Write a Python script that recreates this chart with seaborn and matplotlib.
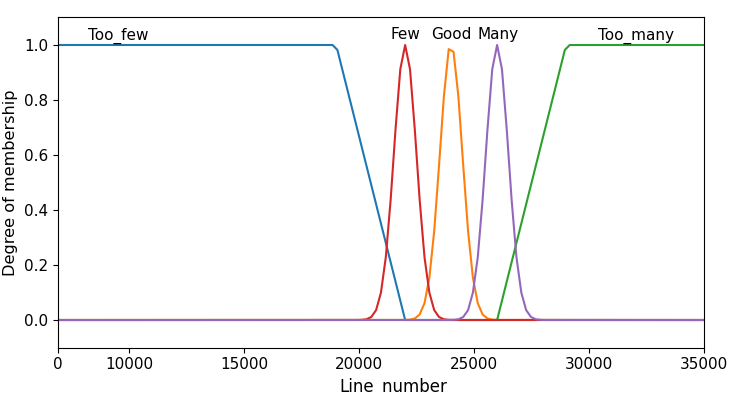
import matplotlib
matplotlib.use("Agg")
import matplotlib.pyplot as plt
import seaborn as sns

# ---- data ----
x_left, x_right = 6900, 35000

too_few_x = [x_left, 18842, 19053, 22000, x_right]
too_few_y = [1.0, 1.0, 0.982, 0.0, 0.0]

good_x = [x_left, 22000, 22211, 22421, 22632, 22842, 23053, 23263, 23474, 23684, 23895,
          24105, 24316, 24526, 24737, 24947, 25158, 25368, 25579, 25789, 26000, x_right]
good_y = [0.0, 0.0002, 0.0013, 0.0056, 0.0203, 0.0613, 0.154, 0.323, 0.562, 0.8125, 0.985,
          0.975, 0.8125, 0.562, 0.323, 0.154, 0.0613, 0.0203, 0.0056, 0.0013, 0.0002, 0.0]

too_many_x = [x_left, 26000, 28947, 29158, x_right]
too_many_y = [0.0, 0.0, 0.982, 1.0, 1.0]

few_x = [x_left, 19895, 20105, 20316, 20526, 20737, 20947, 21158, 21368, 21579, 21789, 22000,
         22211, 22421, 22632, 22842, 23053, 23263, 23474, 23684, 23895, 24105, x_right]
few_y = [0.0, 0.0001, 0.0006, 0.0027, 0.0109, 0.0361, 0.0996, 0.228, 0.436, 0.691, 0.912, 1.0,
         0.912, 0.691, 0.436, 0.228, 0.0996, 0.0361, 0.0109, 0.0027, 0.0006, 0.0001, 0.0]

many_x = [x_left, 23895, 24105, 24316, 24526, 24737, 24947, 25158, 25368, 25579, 25789, 26000,
          26211, 26421, 26632, 26842, 27053, 27263, 27474, 27684, 27895, 28105, x_right]
many_y = [0.0, 0.0001, 0.0006, 0.0027, 0.0109, 0.0361, 0.0996, 0.228, 0.436, 0.691, 0.912, 1.0,
          0.912, 0.691, 0.436, 0.228, 0.0996, 0.0361, 0.0109, 0.0027, 0.0006, 0.0001, 0.0]

labels = ["Too_few", "Few", "Good", "Many", "Too_many"]
label_x = [9500, 22000, 24000, 26050, 32050]

xtick_vals = [x_left, 10000, 15000, 20000, 25000, 30000, 35000]
xtick_labels = ["0", "10000", "15000", "20000", "25000", "30000", "35000"]

plt.rcParams["font.size"] = 11
plt.rcParams["font.family"] = ["DejaVu Sans"]

fig, ax = plt.subplots(figsize=(7.42, 3.94), dpi=100)
fig.subplots_adjust(left=0.0782, right=0.9488, top=0.9556, bottom=0.118)

series = [
    (too_few_x, too_few_y, "C0"),
    (good_x, good_y, "C1"),
    (too_many_x, too_many_y, "C2"),
    (few_x, few_y, "C3"),
    (many_x, many_y, "C4"),
]
for xs, ys, c in series:
    sns.lineplot(x=xs, y=ys, color=c, linewidth=1.5, ax=ax, sort=False, estimator=None)

for lab, lx in zip(labels, label_x):
    ax.text(lx, 1.02, lab, ha="center", va="baseline")

ax.set_xlim(x_left, x_right)
ax.set_ylim(-0.1, 1.1)
ax.set_xticks(xtick_vals)
ax.set_xticklabels(xtick_labels)
ax.set_yticks([0.0, 0.2, 0.4, 0.6, 0.8, 1.0])
ax.set_xlabel("Line_number", fontsize=12)
ax.xaxis.set_label_coords(0.5186, -0.093)
ax.set_ylabel("Degree of membership", fontsize=11.6)

fig.savefig("out.png", dpi=100)
